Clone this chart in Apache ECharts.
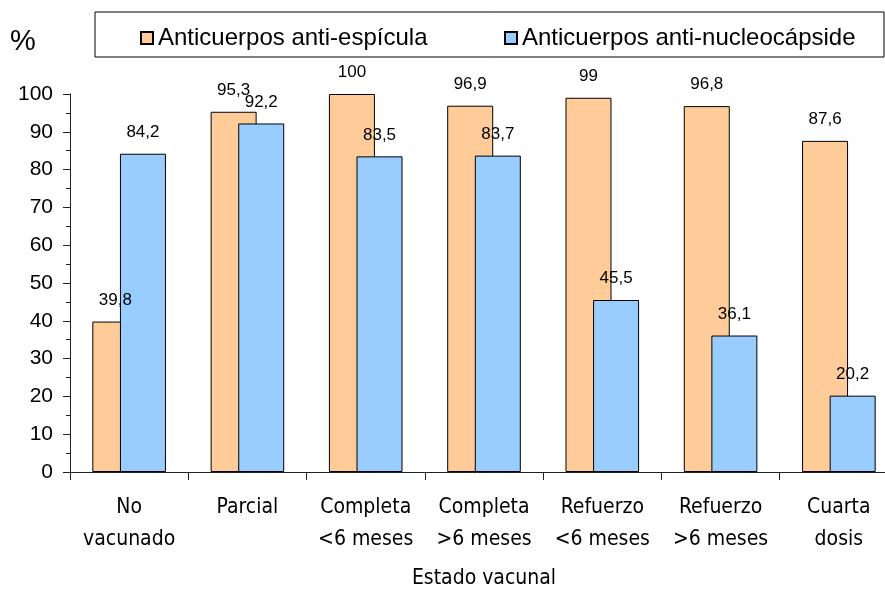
<!DOCTYPE html>
<html>
<head>
<meta charset="utf-8">
<script src="https://cdn.jsdelivr.net/npm/echarts@6/dist/echarts.min.js"></script>
<style>
  html, body { margin: 0; padding: 0; background: #fff; }
  #chart { width: 885px; height: 591px; }
</style>
</head>
<body>
<div id="chart"></div>
<script>
// categorias del eje x
const categorias = [
  "No\nvacunado", "Parcial", "Completa\n<6 meses", "Completa\n>6 meses",
  "Refuerzo\n<6 meses", "Refuerzo\n>6 meses", "Cuarta\ndosis"
];
const serieNombres = ["Anticuerpos anti-espícula", "Anticuerpos anti-nucleocápside"];
const antiEspicula = [39.8, 95.3, 100, 96.9, 99, 96.8, 87.6];
const antiNucleo = [84.2, 92.2, 83.5, 83.7, 45.5, 36.1, 20.2];

const chart = echarts.init(document.getElementById("chart"));

// etiqueta con coma decimal
const etiqueta = {
  show: true,
  position: "top",
  distance: 13,
  fontFamily: "'Liberation Sans Narrow', 'Liberation Sans', Arial",
  fontSize: 17,
  color: "#000",
  formatter: p => String(p.value).replace(".", ",")
};

const legendText = {
  fontFamily: "'Liberation Sans', Arial",
  fontSize: 24,
  color: "#000"
};

const option = {
  animation: false,
  // el area del grafico sigue un poco mas alla del borde derecho
  grid: { left: 70, right: -13, top: 94, bottom: 119, outerBoundsMode: "none", containLabel: false },
  graphic: [
    {
      type: "rect",
      shape: { x: 95, y: 12, width: 789, height: 45 },
      style: { fill: "#fff", stroke: "#000", lineWidth: 1 }
    },
    {
      type: "text",
      left: 10,
      top: 27,
      style: { text: "%", fontFamily: "'Liberation Sans', Arial", fontSize: 29, fill: "#000" }
    }
  ],
  legend: [
    {
      data: [serieNombres[0]],
      left: 135, top: 21,
      itemWidth: 12, itemHeight: 12, itemGap: 6,
      icon: "rect",
      textStyle: legendText
    },
    {
      data: [serieNombres[1]],
      left: 499, top: 21,
      itemWidth: 12, itemHeight: 12, itemGap: 6,
      icon: "rect",
      textStyle: legendText
    }
  ],
  xAxis: {
    type: "category",
    data: categorias,
    name: "Estado vacunal",
    nameLocation: "middle",
    nameGap: 96,
    nameTextStyle: { fontFamily: "'DejaVu Sans Condensed', 'DejaVu Sans'", fontSize: 21, color: "#000" },
    axisLine: { lineStyle: { color: "#222", width: 1 } },
    axisTick: { show: true, length: 8, lineStyle: { color: "#222" } },
    axisLabel: {
      interval: 0,
      margin: 20,
      fontFamily: "'DejaVu Sans Condensed', 'DejaVu Sans'",
      fontSize: 21,
      lineHeight: 32,
      color: "#000"
    }
  },
  yAxis: {
    type: "value",
    min: 0,
    max: 100,
    interval: 10,
    axisLine: { show: true, lineStyle: { color: "#222", width: 1 } },
    axisTick: { show: true, length: 7, lineStyle: { color: "#222" } },
    minorTick: { show: true, splitNumber: 2, length: 4, lineStyle: { color: "#222" } },
    splitLine: { show: false },
    axisLabel: {
      margin: 17,
      fontFamily: "'Liberation Sans', Arial",
      fontSize: 21,
      color: "#000"
    }
  },
  series: [
    {
      name: serieNombres[0],
      type: "bar",
      data: antiEspicula,
      barWidth: 46,
      barGap: "-40%",
      itemStyle: { color: "#FFCC99", borderColor: "#000", borderWidth: 1 },
      label: etiqueta
    },
    {
      name: serieNombres[1],
      type: "bar",
      data: antiNucleo,
      barWidth: 46,
      barGap: "-40%",
      itemStyle: { color: "#99CCFF", borderColor: "#000", borderWidth: 1 },
      label: etiqueta
    }
  ]
};

chart.setOption(option);
</script>
</body>
</html>
